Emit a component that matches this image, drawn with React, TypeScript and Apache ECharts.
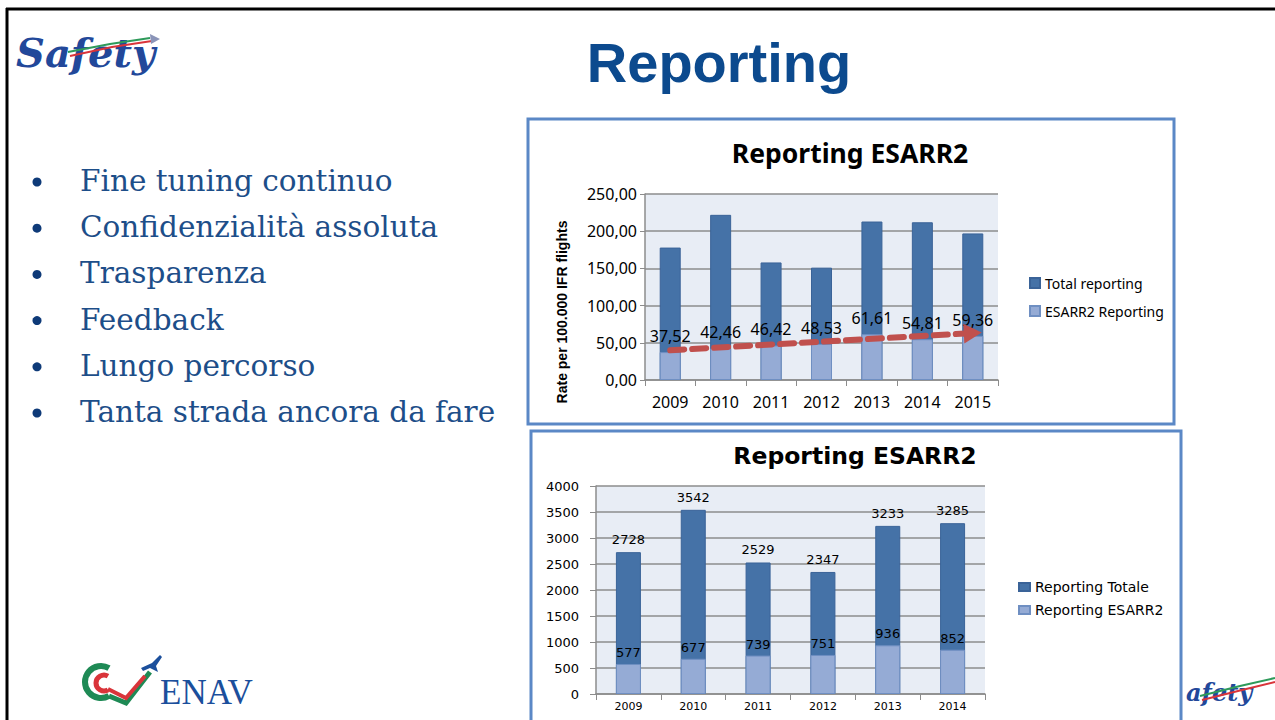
import React, { useEffect, useRef } from 'react';
import * as echarts from 'echarts';

// ---------- data ----------
const bulletItems = [
  'Fine tuning continuo',
  'Confidenzialità assoluta',
  'Trasparenza',
  'Feedback',
  'Lungo percorso',
  'Tanta strada ancora da fare',
];

const rateYears = ['2009', '2010', '2011', '2012', '2013', '2014', '2015'];
const rateTotal = [178, 222, 158, 151, 213, 212, 197];
const rateEsarr = [37.52, 42.46, 46.42, 48.53, 61.61, 54.81, 59.36];
const rateTrend = [40, 63]; // start (2009) and end (2015) of the dashed trend arrow

const countYears = ['2009', '2010', '2011', '2012', '2013', '2014'];
const countTotal = [2728, 3542, 2529, 2347, 3233, 3285];
const countEsarr = [577, 677, 739, 751, 936, 852];

const DARK = '#4572A7';
const LIGHT = '#95ABD5';
const GRID_BG = '#E8EDF5';
const GRIDLINE = '#8C8C8C';
const BOX = '#5B88C6';
const NAVY = '#0C4A8E';

export default function App() {
  const ref = useRef<HTMLDivElement>(null);

  useEffect(() => {
    if (!ref.current) return;
    const chart = echarts.init(ref.current, null, { renderer: 'svg' });

    const bulletGraphics: any[] = [];
    bulletItems.forEach((t, i) => {
      const y = 181 + i * 46.2;
      bulletGraphics.push({
        type: 'circle',
        shape: { cx: 37, cy: y + 1, r: 4.5 },
        style: { fill: '#0E3A78' },
      });
      bulletGraphics.push({
        type: 'text',
        x: 80,
        y,
        style: {
          text: t,
          fontFamily: '"DejaVu Serif", serif',
          fontSize: 29.5,
          fill: '#1D4E89',
          verticalAlign: 'middle',
          align: 'left',
        },
      });
    });

    const fmtComma = (v: number) => v.toFixed(2).replace('.', ',');

    const option: any = {
      animation: false,
      backgroundColor: '#ffffff',
      textStyle: { fontFamily: '"Noto Sans", sans-serif' },
      grid: [
        { left: 645, right: 277, top: 194, bottom: 340, show: true, backgroundColor: GRID_BG, borderWidth: 0 },
        { left: 596, right: 290, top: 486, bottom: 26, show: true, backgroundColor: GRID_BG, borderWidth: 0 },
      ],
      legend: [
        {
          data: ['Total reporting', 'ESARR2 Reporting'],
          orient: 'vertical',
          left: 1024,
          top: 271,
          itemWidth: 10,
          itemHeight: 10,
          itemGap: 14,
          icon: 'rect',
          selectedMode: false,
          textStyle: { fontFamily: '"Noto Sans", sans-serif', fontSize: 14, color: '#000' },
        },
        {
          data: ['Reporting Totale', 'Reporting ESARR2'],
          orient: 'vertical',
          left: 1013,
          top: 575,
          itemWidth: 11,
          itemHeight: 8,
          itemGap: 9,
          icon: 'rect',
          selectedMode: false,
          textStyle: { fontFamily: '"DejaVu Sans", sans-serif', fontSize: 14, color: '#000' },
        },
      ],
      xAxis: [
        {
          gridIndex: 0,
          type: 'category',
          data: rateYears,
          axisLine: { lineStyle: { color: GRIDLINE, width: 1.5 } },
          axisTick: { show: true, length: 6, lineStyle: { color: GRIDLINE } },
          axisLabel: { color: '#000', fontSize: 16, fontFamily: '"Noto Sans", sans-serif', margin: 14 },
        },
        {
          gridIndex: 1,
          type: 'category',
          data: countYears,
          axisLine: { lineStyle: { color: GRIDLINE, width: 1.5 } },
          axisTick: { show: true, length: 6, lineStyle: { color: GRIDLINE } },
          axisLabel: { color: '#000', fontSize: 11, fontFamily: '"DejaVu Sans", sans-serif', margin: 7 },
        },
      ],
      yAxis: [
        {
          gridIndex: 0,
          type: 'value',
          min: 0,
          max: 250,
          interval: 50,
          axisLine: { show: true, lineStyle: { color: GRIDLINE, width: 1.5 } },
          axisTick: { show: true, length: 5, lineStyle: { color: GRIDLINE } },
          splitLine: { lineStyle: { color: GRIDLINE, width: 1.5 } },
          axisLabel: { color: '#000', fontSize: 16, fontFamily: '"Noto Sans", sans-serif', margin: 8, formatter: fmtComma },
        },
        {
          gridIndex: 1,
          type: 'value',
          min: 0,
          max: 4000,
          interval: 500,
          axisLine: { show: true, lineStyle: { color: GRIDLINE, width: 1.5 } },
          axisTick: { show: true, length: 6, lineStyle: { color: GRIDLINE } },
          splitLine: { lineStyle: { color: GRIDLINE, width: 1.5 } },
          axisLabel: {
            color: '#000',
            fontSize: 13,
            fontFamily: '"DejaVu Sans", sans-serif',
            margin: 17,
            formatter: (v: number) => String(v),
          },
        },
      ],
      series: [
        {
          name: 'Total reporting',
          type: 'bar',
          xAxisIndex: 0,
          yAxisIndex: 0,
          data: rateTotal,
          barWidth: 21,
          barGap: '-100%',
          itemStyle: { color: DARK, borderColor: '#3A6398', borderWidth: 1 },
        },
        {
          name: 'ESARR2 Reporting',
          type: 'bar',
          xAxisIndex: 0,
          yAxisIndex: 0,
          data: rateEsarr,
          barWidth: 21,
          barGap: '-100%',
          itemStyle: { color: LIGHT, borderColor: '#6F8FC2', borderWidth: 1 },
          label: {
            show: true,
            position: 'top',
            distance: 8,
            color: '#000',
            fontSize: 16,
            fontFamily: '"Noto Sans", sans-serif',
            formatter: (p: any) => fmtComma(p.value),
          },
          markLine: {
            silent: true,
            symbol: ['none', 'triangle'],
            symbolSize: [20, 18],
            label: { show: false },
            lineStyle: { color: '#C0504D', width: 6, type: [14, 8], cap: 'round', opacity: 1 },
            data: [[{ coord: [rateYears[0], rateTrend[0]] }, { coord: [rateYears[rateYears.length - 1], rateTrend[1]] }]],
          },
        },
        {
          name: 'Reporting Totale',
          type: 'bar',
          xAxisIndex: 1,
          yAxisIndex: 1,
          data: countTotal,
          barWidth: 25,
          barGap: '-100%',
          itemStyle: { color: DARK, borderColor: '#3A6398', borderWidth: 1 },
          label: {
            show: true,
            position: 'top',
            distance: 6,
            color: '#000',
            fontSize: 13,
            fontFamily: '"DejaVu Sans", sans-serif',
          },
        },
        {
          name: 'Reporting ESARR2',
          type: 'bar',
          xAxisIndex: 1,
          yAxisIndex: 1,
          data: countEsarr,
          barWidth: 25,
          barGap: '-100%',
          itemStyle: { color: LIGHT, borderColor: '#6F8FC2', borderWidth: 1 },
          label: {
            show: true,
            position: 'top',
            distance: 5,
            color: '#000',
            fontSize: 13,
            fontFamily: '"DejaVu Sans", sans-serif',
          },
        },
      ],
      graphic: [
        // slide frame
        { type: 'line', shape: { x1: 6, y1: 9, x2: 1275, y2: 9 }, style: { stroke: '#000', lineWidth: 3 } },
        { type: 'line', shape: { x1: 7, y1: 8, x2: 7, y2: 720 }, style: { stroke: '#000', lineWidth: 3 } },
        // main title
        {
          type: 'text',
          x: 719,
          y: 62,
          style: {
            text: 'Reporting',
            fontFamily: '"Liberation Sans", Arial, sans-serif',
            fontWeight: 'bold',
            fontSize: 56,
            fill: NAVY,
            align: 'center',
            verticalAlign: 'middle',
          },
        },
        ...bulletGraphics,
        // chart boxes
        { type: 'rect', shape: { x: 528, y: 119, width: 646, height: 305 }, style: { fill: 'none', stroke: BOX, lineWidth: 3 } },
        { type: 'rect', shape: { x: 531, y: 431, width: 650, height: 300 }, style: { fill: 'none', stroke: BOX, lineWidth: 3 } },
        // chart titles
        {
          type: 'text',
          x: 850,
          y: 153,
          style: {
            text: 'Reporting ESARR2',
            fontFamily: '"Noto Sans", sans-serif',
            fontWeight: 'bold',
            fontSize: 26.5,
            fill: '#000',
            align: 'center',
            verticalAlign: 'middle',
          },
        },
        {
          type: 'text',
          x: 855,
          y: 456,
          style: {
            text: 'Reporting ESARR2',
            fontFamily: '"DejaVu Sans", sans-serif',
            fontWeight: 'bold',
            fontSize: 23.5,
            fill: '#000',
            align: 'center',
            verticalAlign: 'middle',
          },
        },
        // y-axis name of the upper chart
        {
          type: 'text',
          x: 562,
          y: 312,
          rotation: Math.PI / 2,
          style: {
            text: 'Rate per 100.000 IFR flights',
            fontFamily: '"Liberation Sans", sans-serif',
            fontWeight: 'bold',
            fontSize: 14,
            fill: '#000',
            align: 'center',
            verticalAlign: 'middle',
          },
        },
        // Safety logo (top-left)
        {
          type: 'text',
          x: 16,
          y: 52,
          style: {
            text: 'Safety',
            fontFamily: '"DejaVu Serif", serif',
            fontStyle: 'italic',
            fontWeight: 'bold',
            fontSize: 40,
            fill: '#22489A',
            verticalAlign: 'middle',
          },
        },
        { type: 'polyline', shape: { points: [[68, 52], [110, 44], [150, 38]] }, style: { stroke: '#2E9A5A', lineWidth: 2, fill: 'none' } },
        { type: 'polyline', shape: { points: [[70, 56], [112, 47], [152, 41]] }, style: { stroke: '#D9343A', lineWidth: 2, fill: 'none' } },
        { type: 'polygon', shape: { points: [[150, 34], [160, 39], [151, 44]] }, style: { fill: '#8A94B8' } },
        // Safety logo (bottom-right, partly hidden)
        {
          type: 'text',
          x: 1186,
          y: 692,
          style: {
            text: 'afety',
            fontFamily: '"DejaVu Serif", serif',
            fontStyle: 'italic',
            fontWeight: 'bold',
            fontSize: 24,
            fill: '#22489A',
            verticalAlign: 'middle',
          },
        },
        { type: 'polyline', shape: { points: [[1200, 696], [1240, 686], [1275, 678]] }, style: { stroke: '#2E9A5A', lineWidth: 2, fill: 'none' } },
        { type: 'polyline', shape: { points: [[1202, 700], [1242, 690], [1275, 682]] }, style: { stroke: '#D9343A', lineWidth: 2, fill: 'none' } },
        // ENAV logo
        { type: 'arc', shape: { cx: 101, cy: 682, r: 16, startAngle: Math.PI / 3, endAngle: (5 * Math.PI) / 3, clockwise: true }, style: { stroke: '#1E8A55', lineWidth: 6, fill: 'none' } },
        { type: 'arc', shape: { cx: 104, cy: 683, r: 8, startAngle: Math.PI / 3, endAngle: (5 * Math.PI) / 3, clockwise: true }, style: { stroke: '#D9343A', lineWidth: 5, fill: 'none' } },
        { type: 'polyline', shape: { points: [[109, 696], [126, 703], [150, 672]] }, style: { stroke: '#1E8A55', lineWidth: 5, fill: 'none' } },
        { type: 'polyline', shape: { points: [[108, 689], [126, 698], [145, 676]] }, style: { stroke: '#D9343A', lineWidth: 4, fill: 'none' } },
        { type: 'polygon', shape: { points: [[141, 668], [152, 663], [160, 655], [162, 657], [156, 666], [158, 672], [154, 670], [150, 668], [143, 671]] }, style: { fill: '#1B4F9C' } },
        {
          type: 'text',
          x: 160,
          y: 692,
          style: {
            text: 'ENAV',
            fontFamily: '"Liberation Serif", serif',
            fontSize: 35,
            fill: '#1B4F9C',
            verticalAlign: 'middle',
          },
        },
      ],
    };

    chart.setOption(option);
    return () => chart.dispose();
  }, []);

  return (
    <div
      ref={ref}
      style={{ position: 'absolute', left: 0, top: 0, width: 1275, height: 720, background: '#fff' }}
    />
  );
}
